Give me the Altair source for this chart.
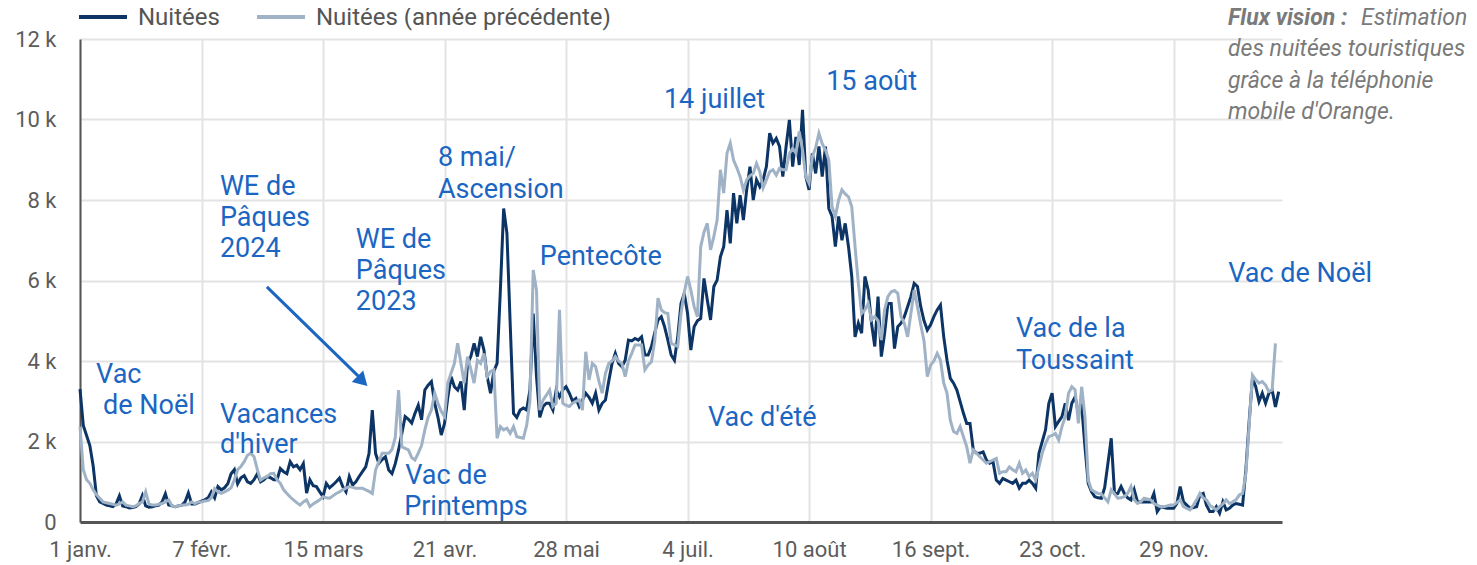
import altair as alt
import pandas as pd

# ---------------- data ----------------
series_names = ["Nuitées", "Nuitées (année précédente)"]
series_colors = ["#0c3464", "#a0b2c6"]

# nuitées touristiques journalières, en milliers (jour 0 = 1er janvier)
nuitees_annee = [
    3.30, 2.40, 2.15, 1.90, 1.40, 0.65, 0.50,
    0.46, 0.42, 0.40, 0.38, 0.45, 0.65, 0.40,
    0.38, 0.35, 0.36, 0.38, 0.45, 0.66, 0.40,
    0.37, 0.38, 0.40, 0.42, 0.50, 0.70, 0.42,
    0.40, 0.38, 0.40, 0.42, 0.50, 0.72, 0.45,
    0.45, 0.48, 0.52, 0.55, 0.60, 0.75, 0.60,
    0.88, 0.80, 0.85, 0.95, 1.20, 1.30, 0.95,
    1.10, 1.15, 1.00, 0.96, 1.05, 1.20, 1.00,
    1.05, 1.13, 1.10, 1.05, 1.05, 1.33, 1.25,
    1.20, 1.50, 1.37, 1.41, 1.30, 1.45, 0.72,
    1.05, 0.90, 0.88, 0.75, 0.63, 0.96, 0.85,
    0.92, 1.00, 1.09, 0.88, 0.75, 1.13, 0.92,
    1.00, 1.13, 1.25, 1.37, 1.70, 2.78, 1.70,
    1.46, 1.55, 1.62, 1.29, 1.20, 1.45, 1.79,
    2.20, 2.62, 2.55, 2.46, 2.70, 2.90, 2.54,
    3.28, 3.40, 3.49, 2.95, 2.60, 2.16, 2.45,
    3.10, 3.61, 3.36, 3.28, 3.49, 2.78, 3.94,
    4.11, 4.44, 4.11, 4.60, 4.27, 3.60, 3.20,
    3.74, 3.94, 5.76, 7.79, 7.17, 4.90, 2.70,
    2.60, 2.78, 2.83, 2.78, 3.28, 5.18, 3.61,
    2.60, 2.87, 2.95, 2.95, 2.78, 3.28, 3.11,
    3.28, 3.36, 3.20, 3.00, 3.07, 2.87, 3.03,
    3.20, 3.10, 2.95, 3.20, 2.78, 2.95, 3.03,
    3.50, 3.94, 4.19, 3.94, 3.86, 4.02, 4.52,
    4.50, 4.56, 4.52, 4.60, 4.15, 4.15, 4.36,
    4.70, 5.02, 5.10, 4.85, 4.52, 4.15, 4.02,
    4.60, 5.43, 5.68, 5.18, 4.27, 4.85, 5.00,
    5.06, 6.05, 5.52, 5.02, 5.85, 6.01, 6.59,
    6.84, 7.75, 6.92, 8.17, 7.42, 8.12, 7.50,
    8.25, 8.83, 8.00, 8.50, 8.33, 8.50, 8.83,
    9.66, 9.41, 9.53, 9.33, 8.58, 9.33, 9.99,
    8.83, 9.57, 8.87, 10.24, 8.58, 8.25, 9.16,
    8.66, 9.33, 8.58, 9.33, 7.79, 7.59, 6.84,
    7.59, 7.00, 7.42, 6.84, 6.10, 4.60, 4.94,
    4.69, 6.10, 5.76, 4.94, 4.36, 5.60, 4.11,
    4.69, 5.43, 5.43, 4.31, 4.85, 4.94, 5.10,
    5.35, 5.60, 5.93, 5.85, 5.35, 5.00, 4.77,
    4.90, 5.10, 5.27, 5.39, 4.60, 4.02, 3.57,
    3.45, 3.28, 2.99, 2.70, 2.45, 2.45, 1.79,
    1.71, 1.71, 1.74, 1.54, 1.46, 1.50, 1.04,
    0.96, 1.08, 1.04, 1.00, 0.96, 1.04, 0.84,
    0.96, 0.96, 1.04, 0.96, 0.84, 1.71, 2.00,
    2.29, 2.95, 3.20, 2.37, 2.50, 2.62, 2.95,
    2.53, 2.95, 3.11, 2.70, 2.87, 1.87, 0.96,
    0.75, 0.63, 0.60, 0.59, 0.85, 1.46, 2.08,
    0.71, 0.71, 0.88, 0.71, 0.60, 0.55, 0.80,
    0.50, 0.50, 0.50, 0.50, 0.50, 0.71, 0.26,
    0.38, 0.36, 0.34, 0.34, 0.34, 0.46, 0.88,
    0.50, 0.42, 0.34, 0.36, 0.38, 0.67, 0.71,
    0.42, 0.26, 0.26, 0.38, 0.22, 0.50, 0.30,
    0.34, 0.42, 0.46, 0.44, 0.42, 1.30, 2.50,
    3.57, 3.36, 2.99, 3.20, 2.95, 3.20, 3.28,
    2.86, 3.24,
]

nuitees_annee_precedente = [
    2.37, 1.30, 1.05, 0.96, 0.80, 0.68, 0.59,
    0.50, 0.48, 0.46, 0.44, 0.42, 0.45, 0.50,
    0.42, 0.40, 0.38, 0.40, 0.46, 0.50, 0.75,
    0.45, 0.42, 0.42, 0.44, 0.46, 0.50, 0.55,
    0.40, 0.38, 0.40, 0.42, 0.42, 0.44, 0.50,
    0.46, 0.50, 0.50, 0.52, 0.53, 0.60, 0.83,
    0.75, 0.71, 0.75, 0.79, 0.85, 1.05, 1.30,
    1.38, 1.50, 1.66, 1.71, 1.62, 1.30, 1.04,
    1.10, 1.13, 1.20, 1.21, 1.05, 0.96, 0.80,
    0.71, 0.62, 0.55, 0.48, 0.42, 0.50, 0.55,
    0.38, 0.45, 0.50, 0.55, 0.63, 0.60, 0.59,
    0.65, 0.71, 0.75, 0.80, 0.84, 0.88, 0.86,
    0.84, 0.84, 0.84, 0.80, 0.76, 0.71, 1.29,
    1.50, 1.71, 1.71, 1.71, 1.80, 2.10, 3.28,
    1.87, 1.83, 1.79, 1.60, 1.54, 1.71, 1.90,
    2.29, 2.60, 2.78, 3.20, 2.95, 2.75, 2.62,
    3.45, 3.70, 3.94, 4.44, 3.94, 3.45, 4.11,
    3.80, 3.45, 4.02, 3.94, 4.19, 3.61, 3.74,
    3.78, 2.08, 2.37, 2.29, 2.33, 2.20, 2.37,
    2.12, 2.10, 2.08, 2.40, 3.00, 6.26, 5.76,
    2.78, 3.03, 3.15, 3.28, 2.87, 2.95, 5.27,
    2.95, 2.90, 2.87, 2.95, 3.00, 3.03, 2.78,
    4.23, 3.53, 3.94, 3.86, 3.50, 3.20, 3.69,
    3.94, 4.00, 4.11, 4.00, 3.94, 3.61, 4.00,
    4.19, 4.40, 4.40, 4.40, 3.78, 3.90, 3.98,
    4.50, 5.56, 5.27, 5.20, 5.18, 4.44, 4.40,
    4.36, 5.18, 5.70, 6.10, 5.76, 5.35, 5.10,
    6.84, 7.20, 7.42, 6.76, 7.09, 7.50, 8.75,
    8.17, 9.16, 9.41, 8.99, 8.80, 8.58, 8.25,
    8.50, 8.60, 8.66, 8.91, 8.70, 8.30, 8.50,
    8.70, 8.75, 8.62, 8.79, 8.75, 8.75, 9.16,
    9.28, 9.16, 9.70, 9.24, 8.58, 8.41, 9.08,
    9.30, 9.66, 9.40, 9.24, 8.99, 7.83, 7.59,
    8.00, 8.25, 8.15, 8.08, 7.83, 6.84, 5.93,
    5.18, 5.27, 5.43, 5.02, 5.10, 5.00, 4.52,
    5.27, 5.60, 5.72, 5.75, 5.68, 5.10, 4.94,
    4.60, 5.18, 5.76, 5.35, 4.90, 4.50, 3.61,
    3.90, 4.00, 4.19, 4.02, 3.45, 3.20, 2.53,
    2.25, 2.20, 2.37, 2.12, 1.87, 1.46, 1.79,
    1.71, 1.62, 1.54, 1.46, 1.50, 1.54, 1.58,
    1.21, 1.25, 1.25, 1.37, 1.30, 1.25, 1.46,
    1.21, 1.29, 1.13, 1.21, 1.04, 1.37, 1.71,
    1.95, 2.12, 2.15, 2.20, 2.04, 2.37, 2.62,
    3.20, 3.36, 3.28, 2.45, 3.36, 2.62, 1.04,
    0.80, 0.75, 0.71, 0.70, 0.60, 0.50, 0.80,
    0.70, 0.59, 0.60, 0.63, 0.71, 0.88, 0.55,
    0.46, 0.50, 0.59, 0.57, 0.55, 0.46, 0.42,
    0.38, 0.38, 0.40, 0.42, 0.42, 0.48, 0.55,
    0.38, 0.34, 0.30, 0.42, 0.55, 0.71, 0.60,
    0.55, 0.42, 0.36, 0.30, 0.38, 0.45, 0.55,
    0.46, 0.50, 0.55, 0.67, 0.71, 1.20, 2.40,
    3.65, 3.53, 3.45, 3.49, 3.40, 3.24, 3.28,
    4.44,
]

tick_days = [0, 37, 74, 111, 148, 185, 222, 259, 296, 333]
tick_labels = ["1 janv.", "7 févr.", "15 mars", "21 avr.", "28 mai",
               "4 juil.", "10 août", "16 sept.", "23 oct.", "29 nov."]
y_ticks = [0, 2000, 4000, 6000, 8000, 10000, 12000]

# annotations: (texte, jour, milliers de nuitées)
annotations = [
    ("Vac", 4.9, 3.65), ("de Noël", 7.0, 2.88),
    ("Vacances", 42.6, 2.66), ("d'hiver", 42.6, 1.91),
    ("WE de", 42.6, 8.32), ("Pâques", 42.6, 7.55), ("2024", 42.6, 6.78),
    ("WE de", 84.0, 7.0), ("Pâques", 84.0, 6.24), ("2023", 84.0, 5.47),
    ("8 mai/", 109.0, 9.04), ("Ascension", 109.0, 8.25),
    ("Pentecôte", 140.0, 6.58),
    ("Vac de", 99.0, 1.14), ("Printemps", 98.7, 0.37),
    ("14 juillet", 177.8, 10.48), ("15 août", 227.2, 10.93),
    ("Vac d'été", 191.2, 2.58),
    ("Vac de la", 285.0, 4.8), ("Toussaint", 285.0, 4.0),
    ("Vac de Noël", 349.6, 6.16),
]
arrow = {"jour": [56.9], "v": [5.84], "jour2": [84.9], "v2": [3.61]}

note_bold = "Flux vision :"
note_lines = ["Estimation", "des nuitées touristiques", "grâce à la téléphonie", "mobile d'Orange."]

assert len(nuitees_annee) == 366 and len(nuitees_annee_precedente) == 365

# ---------------- tables ----------------
df_cur = pd.DataFrame({"jour": range(len(nuitees_annee)),
                       "nuitees": [v * 1000 for v in nuitees_annee],
                       "serie": series_names[0]})
df_prev = pd.DataFrame({"jour": range(len(nuitees_annee_precedente)),
                        "nuitees": [v * 1000 for v in nuitees_annee_precedente],
                        "serie": series_names[1]})
df_ann = pd.DataFrame({"label": [a[0] for a in annotations],
                       "jour": [a[1] for a in annotations],
                       "nuitees": [a[2] * 1000 for a in annotations]})
df_arrow = pd.DataFrame({"jour": arrow["jour"], "nuitees": [v * 1000 for v in arrow["v"]],
                         "jour2": arrow["jour2"], "nuitees2": [v * 1000 for v in arrow["v2"]]})
df_head = pd.DataFrame({"jour": [86.0], "nuitees": [3500.0]})

FONT = "Roboto"
BLUE = "#1b66c2"
GRID = "#e3e3e3"
AXIS = "#555555"
LABEL = "#5c5c5c"

labels_js = "[" + ",".join("'" + l + "'" for l in tick_labels) + "]"
days_js = "[" + ",".join(str(d) for d in tick_days) + "]"

x_scale = alt.Scale(domain=[0, 366], nice=False, zero=False)
y_scale = alt.Scale(domain=[0, 12000], nice=False)

x_axis = alt.Axis(values=tick_days, labelExpr=f"{labels_js}[indexof({days_js}, datum.value)]",
                  grid=True, gridColor=GRID, gridWidth=2, domainColor=AXIS, domainWidth=3,
                  ticks=False, labelFontSize=22, labelColor=LABEL, labelFont=FONT,
                  labelPadding=17, title=None, labelFlush=False, labelOverlap=False)
y_axis = alt.Axis(values=y_ticks, labelExpr="datum.value == 0 ? '0' : (datum.value / 1000) + ' k'",
                  grid=True, gridColor=GRID, gridWidth=2, domainColor=AXIS, domainWidth=2,
                  ticks=False, labelFontSize=22, labelColor=LABEL, labelFont=FONT,
                  labelPadding=24, title=None)

line_cur = alt.Chart(df_cur).mark_line(strokeWidth=3, color=series_colors[0]).encode(
    x=alt.X("jour:Q", scale=x_scale, axis=x_axis),
    y=alt.Y("nuitees:Q", scale=y_scale, axis=y_axis),
)
line_prev = alt.Chart(df_prev).mark_line(strokeWidth=3, color=series_colors[1]).encode(
    x=alt.X("jour:Q", scale=x_scale),
    y=alt.Y("nuitees:Q", scale=y_scale),
)

ann = alt.Chart(df_ann).mark_text(align="left", baseline="middle", font=FONT,
                                  fontSize=27, color=BLUE).encode(
    x=alt.X("jour:Q", scale=x_scale), y=alt.Y("nuitees:Q", scale=y_scale), text="label:N")

arrow_line = alt.Chart(df_arrow).mark_rule(strokeWidth=3, color=BLUE).encode(
    x=alt.X("jour:Q", scale=x_scale), y=alt.Y("nuitees:Q", scale=y_scale),
    x2="jour2:Q", y2="nuitees2:Q")
arrow_head = alt.Chart(df_head).mark_point(shape="triangle-up", angle=135, size=260,
                                           filled=True, color=BLUE, opacity=1).encode(
    x=alt.X("jour:Q", scale=x_scale), y=alt.Y("nuitees:Q", scale=y_scale))

# legend (pixel layout relative to plot origin)
leg_df = pd.DataFrame({"serie": series_names, "color": series_colors,
                       "x1": [-1, 177], "x2": [47, 225], "xt": [58, 236]})
leg_rules = alt.Chart(leg_df).mark_rule(strokeWidth=4).encode(
    x=alt.X("x1:Q", scale=None), x2="x2:Q", y=alt.value(-22),
    color=alt.Color("color:N", scale=None))
leg_text = alt.Chart(leg_df).mark_text(align="left", baseline="middle", font=FONT,
                                       fontSize=24, color="#555555").encode(
    x=alt.X("xt:Q", scale=None), y=alt.value(-21), text="serie:N")

note_df = pd.DataFrame({"t": note_lines, "x": [1281, 1148, 1148, 1148], "y": [-21, 10, 42, 73]})
note_b = alt.Chart(pd.DataFrame({"t": [note_bold]})).mark_text(
    align="left", baseline="middle", font=FONT, fontSize=23, fontStyle="italic",
    fontWeight="bold", color="#7a7a7a").encode(x=alt.value(1148), y=alt.value(-21), text="t:N")
note = alt.Chart(note_df).mark_text(align="left", baseline="middle", font=FONT, fontSize=23,
                                    fontStyle="italic", color="#7a7a7a").encode(
    x=alt.X("x:Q", scale=None), y=alt.Y("y:Q", scale=None), text="t:N")

chart = alt.layer(
    line_cur, line_prev, ann, arrow_line, arrow_head, leg_rules, leg_text, note_b, note
).properties(
    width=1202, height=483,
    autosize=alt.AutoSizeParams(type="none"),
    padding={"left": 72, "top": 31, "right": 187, "bottom": 43},
).configure_view(stroke=None)

chart.save("out.html", embed_options={"renderer": "svg", "actions": False})
